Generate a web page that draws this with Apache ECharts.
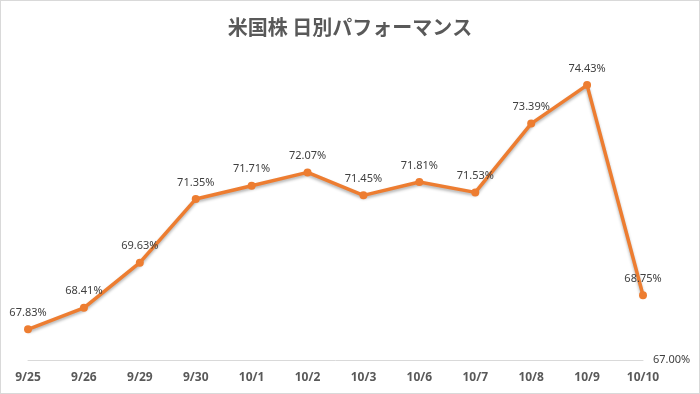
<!DOCTYPE html>
<html><head><meta charset="utf-8">
<script src="https://cdn.jsdelivr.net/npm/echarts@6/dist/echarts.min.js"></script>
<style>
html,body{margin:0;padding:0;background:#fff;}
#c{width:698px;height:392px;border:1px solid #d9d9d9;}
</style></head>
<body><div id="c"></div>
<script>
const categories = ['9/25','9/26','9/29','9/30','10/1','10/2','10/3','10/6','10/7','10/8','10/9','10/10'];
const values = [67.83, 68.41, 69.63, 71.35, 71.71, 72.07, 71.45, 71.81, 71.53, 73.39, 74.43, 68.75];
const yMin = 67;
const yMax = 75;
const titleText = '米国株 日別パフォーマンス';

const chart = echarts.init(document.getElementById('c'), null, {renderer:'canvas'});
chart.setOption({
  animation:false,
  backgroundColor:'#fff',
  title:{text:titleText,left:'center',top:11,textStyle:{fontFamily:'Noto Sans CJK JP',fontSize:20,fontWeight:'bold',color:'#595959'}},
  grid:{left:27,right:56,top:63,bottom:33},
  xAxis:{type:'category',data:categories,boundaryGap:false,
    axisLine:{lineStyle:{color:'#d9d9d9',width:1}},axisTick:{show:false},
    axisLabel:{color:'#595959',fontSize:12,fontWeight:'bold',fontFamily:'Noto Sans',margin:12}},
  yAxis:{type:'value',position:'right',min:yMin,max:yMax,interval:yMax-yMin,
    splitLine:{show:false},axisLine:{show:false},axisTick:{show:false},
    axisLabel:{showMaxLabel:false,color:'#404040',fontSize:11,fontFamily:'Noto Sans',margin:10,formatter:v=>v.toFixed(2)+'%'}},
  series:[{type:'line',data:values,symbol:'circle',symbolSize:8,
    lineStyle:{color:'#ED7D31',width:3.5,shadowColor:'rgba(0,0,0,0.3)',shadowBlur:3,shadowOffsetY:2},
    itemStyle:{color:'#ED7D31'},
    label:{show:true,position:'top',distance:7,color:'#404040',fontSize:11,fontFamily:'Noto Sans',formatter:p=>p.value.toFixed(2)+'%'}}]
});
</script></body></html>
